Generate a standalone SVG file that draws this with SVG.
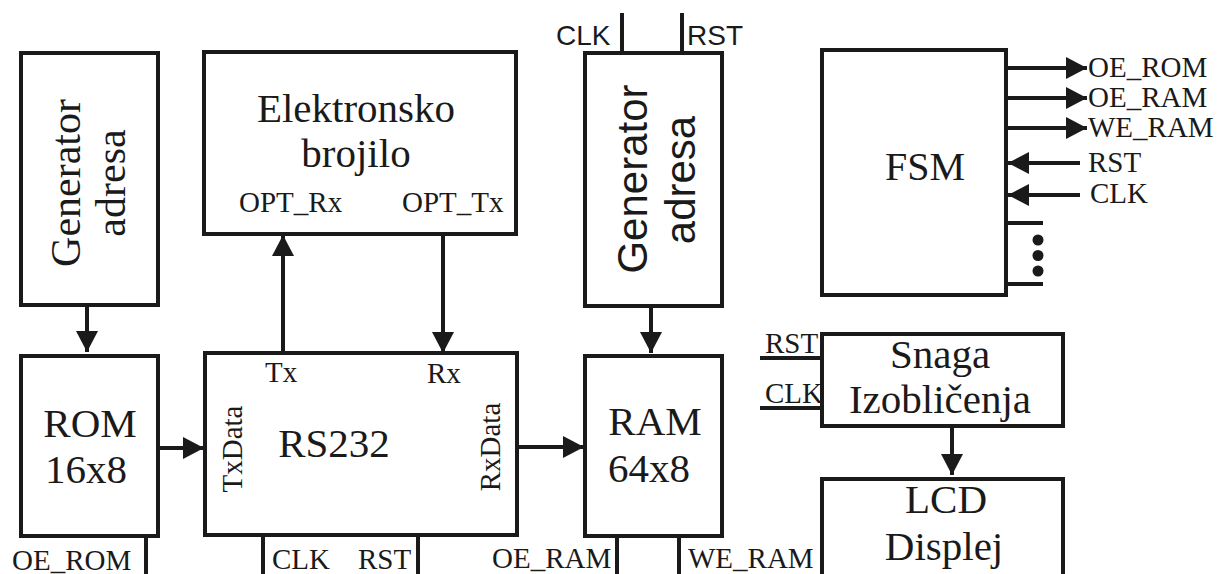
<svg xmlns="http://www.w3.org/2000/svg" width="1226" height="574" viewBox="0 0 1226 574">
<style>
.box{fill:#fff;stroke:#1a1a1a;stroke-width:4}
.ln{stroke:#1a1a1a;stroke-width:4;fill:none}
.ar{stroke:#1a1a1a;stroke-width:4;fill:none;marker-end:url(#ah)}
.t{font-family:"Liberation Serif","Times New Roman",serif;fill:#1a1a1a}
.big{font-size:41px}
.sm{font-size:29px}
.s{font-family:"Liberation Sans",Arial,sans-serif;fill:#1a1a1a}
.mid{text-anchor:middle}
</style>
<defs>
<marker id="ah" markerUnits="userSpaceOnUse" markerWidth="21" markerHeight="22" refX="21" refY="11" orient="auto">
<path d="M0,0 L21,11 L0,22 z" fill="#1a1a1a"/>
</marker>
</defs>
<rect width="1226" height="574" fill="#fff"/>
<g id="connectors">
<line class="ar" x1="87" y1="307" x2="87" y2="352"/>
<line class="ar" x1="158" y1="448" x2="204" y2="448"/>
<line class="ar" x1="283" y1="353" x2="283" y2="235"/>
<line class="ar" x1="443" y1="234" x2="443" y2="353"/>
<line class="ar" x1="517" y1="447" x2="584" y2="447"/>
<line class="ar" x1="651" y1="306" x2="651" y2="353"/>
<line class="ar" x1="952" y1="426" x2="952" y2="475"/>
<line class="ar" x1="1006" y1="68" x2="1087" y2="68"/>
<line class="ar" x1="1006" y1="98" x2="1087" y2="98"/>
<line class="ar" x1="1006" y1="128" x2="1087" y2="128"/>
<line class="ar" x1="1080" y1="163" x2="1008" y2="163"/>
<line class="ar" x1="1080" y1="195" x2="1008" y2="195"/>
<line class="ln" x1="1006" y1="223" x2="1043" y2="223"/>
<line class="ln" x1="1006" y1="284" x2="1043" y2="284"/>
<circle cx="1038" cy="240" r="5.5" fill="#1a1a1a"/>
<circle cx="1038" cy="255.5" r="5.5" fill="#1a1a1a"/>
<circle cx="1038" cy="271" r="5.5" fill="#1a1a1a"/>
<line class="ln" x1="622" y1="13" x2="622" y2="53"/>
<line class="ln" x1="682" y1="13" x2="682" y2="53"/>
<line class="ln" x1="146" y1="536" x2="146" y2="574"/>
<line class="ln" x1="263" y1="535" x2="263" y2="574"/>
<line class="ln" x1="418" y1="535" x2="418" y2="574"/>
<line class="ln" x1="617" y1="536" x2="617" y2="574"/>
<line class="ln" x1="679" y1="536" x2="679" y2="574"/>
<line class="ln" x1="760" y1="358" x2="822" y2="358"/>
<line class="ln" x1="760" y1="408" x2="822" y2="408"/>
</g>
<g id="gen1">
<rect class="box" x="21" y="53" width="137" height="252"/>
<text class="t mid" font-size="42" transform="translate(80,183) rotate(-90)">Generator</text>
<text class="t mid" font-size="42" transform="translate(125,183) rotate(-90)">adresa</text>
</g>
<g id="elektronsko">
<rect class="box" x="204" y="52" width="312" height="182"/>
<text class="t big mid" x="356" y="122">Elektronsko</text>
<text class="t big mid" x="356" y="167">brojilo</text>
<text class="t sm" x="239" y="212">OPT_Rx</text>
<text class="t sm" x="402" y="212">OPT_Tx</text>
</g>
<g id="gen2">
<rect class="box" x="585" y="53" width="137" height="253"/>
<text class="s mid" font-size="42" transform="translate(647,179) rotate(-90)">Generator</text>
<text class="s mid" font-size="42" transform="translate(695,180) rotate(-90)">adresa</text>
<text class="s" font-size="28" x="556" y="45">CLK</text>
<text class="s" font-size="28" x="687" y="45">RST</text>
</g>
<g id="fsm">
<rect class="box" x="822" y="50" width="184" height="245"/>
<text class="t mid" font-size="40" x="925" y="180">FSM</text>
<text class="t sm" x="1088" y="77">OE_ROM</text>
<text class="t sm" x="1088" y="107">OE_RAM</text>
<text class="t sm" x="1088" y="137">WE_RAM</text>
<text class="t sm" x="1088" y="172">RST</text>
<text class="t sm" x="1090" y="203">CLK</text>
</g>
<g id="rom">
<rect class="box" x="21" y="356" width="137" height="180"/>
<text class="t big mid" x="90" y="437">ROM</text>
<text class="t big mid" x="86" y="483">16x8</text>
<text class="t sm" x="12" y="570">OE_ROM</text>
</g>
<g id="rs232">
<rect class="box" x="205" y="353" width="312" height="182"/>
<text class="t big mid" x="334" y="457">RS232</text>
<text class="t sm" x="265" y="382">Tx</text>
<text class="t sm" x="427" y="383">Rx</text>
<text class="t sm mid" transform="translate(242,449) rotate(-90)">TxData</text>
<text class="t sm mid" transform="translate(500,447) rotate(-90)">RxData</text>
<text class="t sm" x="272" y="569">CLK</text>
<text class="t sm" x="358" y="569">RST</text>
</g>
<g id="ram">
<rect class="box" x="585" y="356" width="137" height="180"/>
<text class="t big mid" x="655" y="435">RAM</text>
<text class="t big mid" x="649" y="482">64x8</text>
<text class="t sm" x="492" y="568">OE_RAM</text>
<text class="t sm" x="688" y="568">WE_RAM</text>
</g>
<g id="snaga">
<rect class="box" x="822" y="334" width="241" height="92"/>
<text class="t big mid" x="940" y="368">Snaga</text>
<text class="t big mid" x="940" y="413">Izobličenja</text>
<text class="t sm" x="765" y="353">RST</text>
<text class="t sm" x="765" y="403">CLK</text>
</g>
<g id="lcd">
<rect class="box" x="822" y="479" width="241" height="130"/>
<text class="t big mid" x="946" y="513">LCD</text>
<text class="t big mid" x="944" y="560">Displej</text>
</g>
</svg>
